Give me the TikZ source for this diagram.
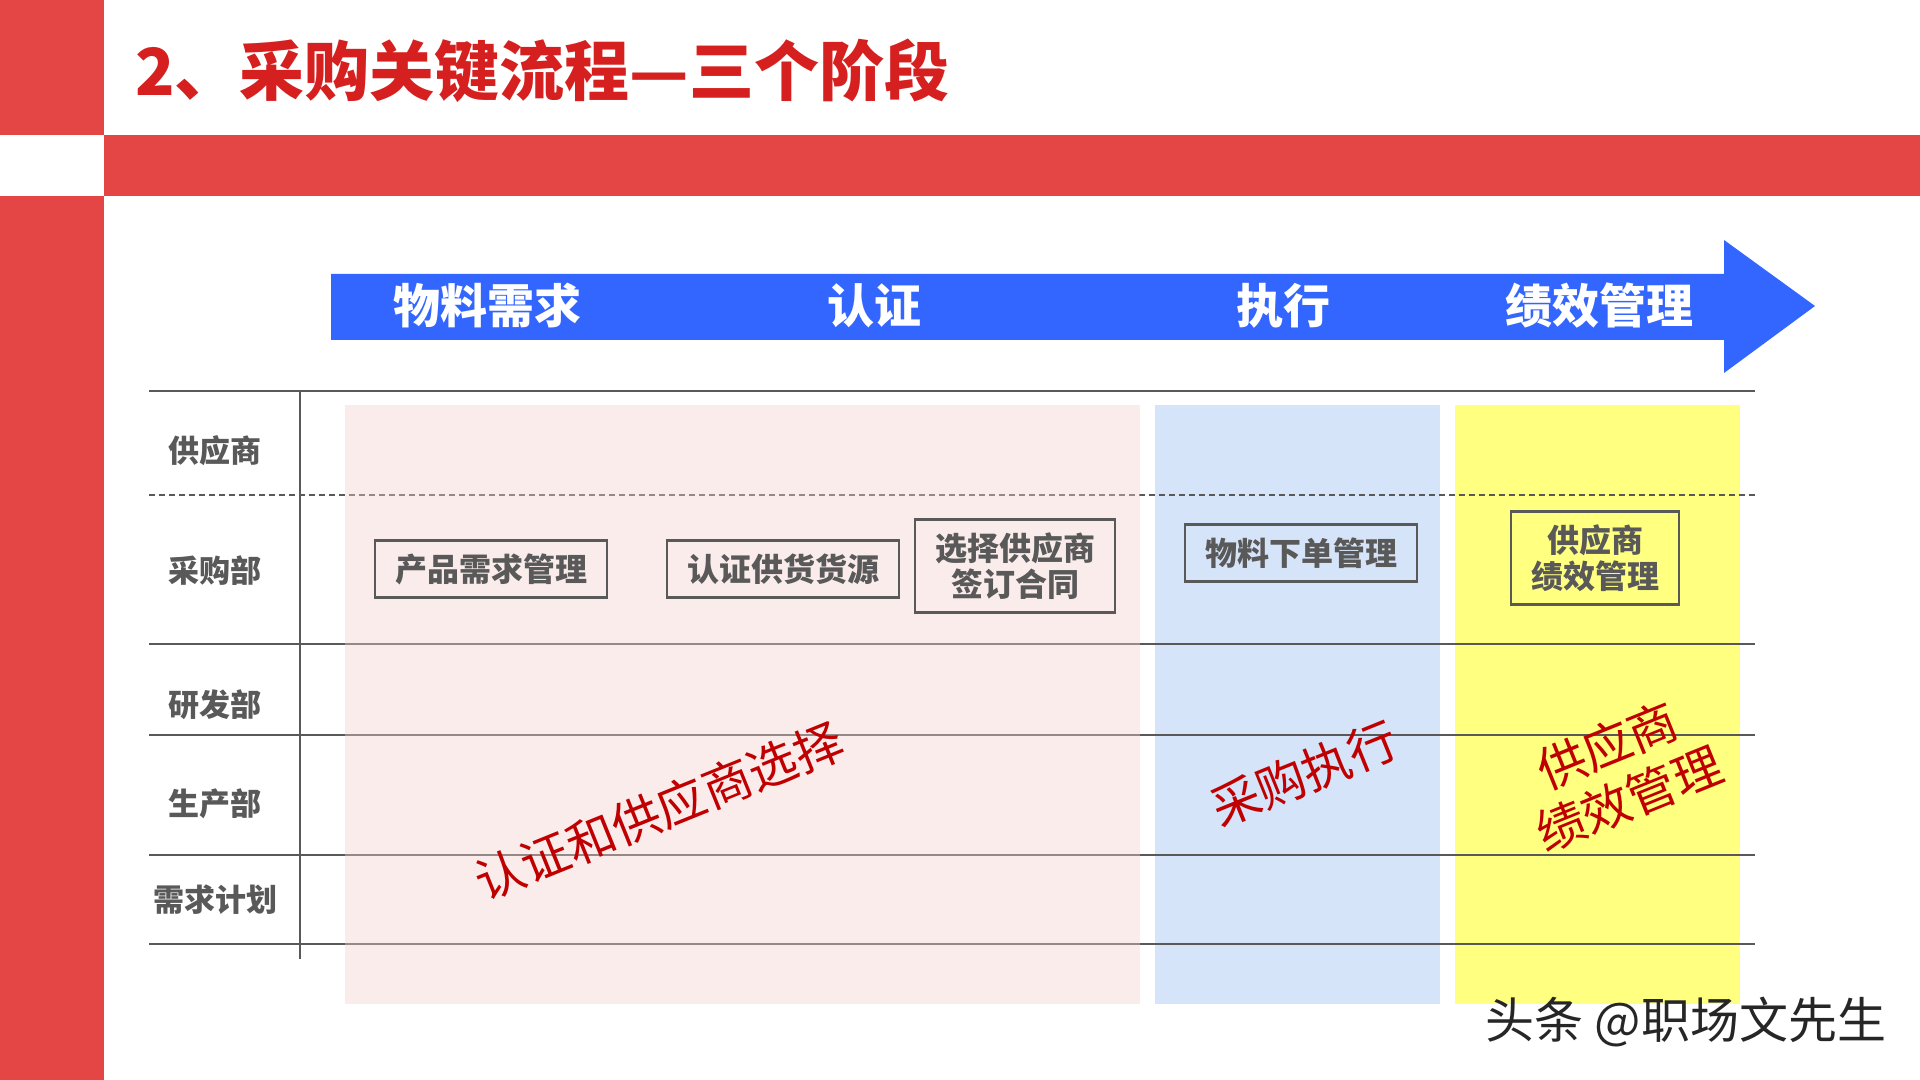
\documentclass[tikz,border=0pt]{standalone}
\usepackage{fontspec}
\setmainfont{Noto Sans CJK SC}
\usetikzlibrary{positioning}

\definecolor{barred}{RGB}{228,70,70}
\definecolor{titlered}{RGB}{214,32,32}
\definecolor{arrowblue}{RGB}{51,102,255}
\definecolor{linegray}{RGB}{89,89,89}
\definecolor{pinkfill}{RGB}{245,208,208}
\definecolor{bluefill}{RGB}{213,228,248}
\definecolor{yellowfill}{RGB}{255,255,128}
\definecolor{slantred}{RGB}{192,0,0}

\begin{document}
\begin{tikzpicture}[x=0.5pt,y=-0.5pt,
  stagelabel/.style={text=white,font=\bfseries\fontsize{23.5}{26}\selectfont},
  rowlabel/.style={text=linegray,font=\bfseries\fontsize{15.5}{18}\selectfont},
  procbox/.style={draw=linegray,line width=1.3pt,text=linegray,align=center,
    inner xsep=10pt,inner ysep=6.5pt,font=\bfseries\fontsize{16}{18}\selectfont},
  slanttext/.style={rotate=22,text=slantred,align=center,inner sep=0pt,font=\fontsize{24.5}{29}\selectfont}]
\useasboundingbox[fill=white] (0,0) rectangle (1920,1080);
% red frame
\fill[barred] (0,0) rectangle (104,135);
\fill[barred] (0,196) rectangle (104,1080);
\fill[barred] (104,135) rectangle (1920,196);
\node[anchor=west,text=titlered,font=\bfseries\fontsize{32.5}{36}\selectfont] (title) at (128,71) {2、采购关键流程—三个阶段};

% stage arrow
\fill[arrowblue] (331,274) -- (1724,274) -- (1724,240) -- (1815,306) -- (1724,373) -- (1724,340) -- (331,340) -- cycle;
\node[stagelabel] (need) at (487,306) {物料需求};
\node[stagelabel] (cert) at (874,306) {认证};
\node[stagelabel] (exec) at (1283,306) {执行};
\node[stagelabel] (perf) at (1599,306) {绩效管理};

% columns
\fill[bluefill] (1155,405) rectangle (1440,1004);
\fill[yellowfill] (1455,405) rectangle (1740,1004);

% swimlane lines
\draw[linegray,line width=1.2pt] (149,391) -- (1755,391);
\draw[linegray,line width=0.9pt,dash pattern=on 3pt off 2pt] (149,495) -- (1755,495);
\foreach \y in {644,735,855,944}
  \draw[linegray,line width=1.2pt] (149,\y) -- (1755,\y);
\draw[linegray,line width=0.7pt] (300,391) -- (300,959);
\fill[pinkfill,fill opacity=0.4] (345,405) rectangle (1140,1004);

\node[rowlabel] (supplier) at (215,451) {供应商};
\node[rowlabel] (purchase) at (215,571) {采购部};
\node[rowlabel] (rnd) at (215,705) {研发部};
\node[rowlabel] (prod) at (215,804) {生产部};
\node[rowlabel] (plan) at (215,900) {需求计划};

% process boxes
\node[procbox] (demand) at (491,569) {产品需求管理};
\node[procbox] (source) at (783,569) {认证供货货源};
\node[procbox] (contract) at (1015,566) {选择供应商\\签订合同};
\node[procbox] (order) at (1301,553) {物料下单管理};
\node[procbox] (review) at (1595,558) {供应商\\绩效管理};

% slanted phase texts
\node[slanttext] (select) at (659,811) {认证和供应商选择};
\node[slanttext] (run) at (1304,774) {采购执行};
\node[slanttext] (manage) at (1618,772) {供应商\\绩效管理};

\node[text=black!85,font=\fontsize{24.5}{28}\selectfont] (mark) at (1686,1022) {头条 @职场文先生};
\end{tikzpicture}
\end{document}
